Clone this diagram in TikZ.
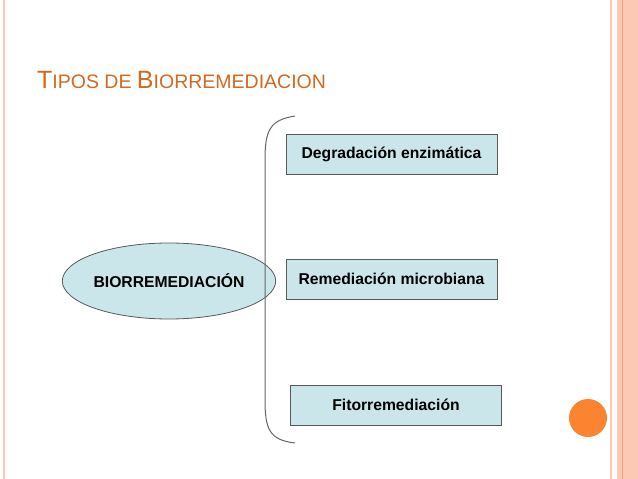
\documentclass[tikz,border=0pt]{standalone}
\usepackage{fontspec}
\setmainfont{Liberation Sans}
\usetikzlibrary{shapes.geometric}
\definecolor{boxfill}{HTML}{CBE6EA}
\definecolor{ttl}{HTML}{D2691E}
\definecolor{peach}{HTML}{FBC9B4}
\definecolor{peachline}{HTML}{F0A080}
\definecolor{dot}{HTML}{FB8430}
\tikzset{leaf/.style={draw=black!65,line width=0.8pt,fill=boxfill,minimum width=211pt,minimum height=40pt,font=\bfseries\fontsize{15.7}{18}\selectfont}}
\begin{document}
\begin{tikzpicture}[x=1pt,y=-1pt]
\useasboundingbox (0,0) rectangle (638,479);
\fill[white] (0,0) rectangle (638,479);
\fill[peach] (617,0) rectangle (638,479);
\draw[peachline,line width=0.8pt] (622,0) -- (622,479);
\draw[peach,line width=1.5pt] (611,0) -- (611,479);
\draw[peach,line width=1.2pt] (4,0) -- (4,479);
\node[anchor=base west,text=ttl,inner sep=0] (title) at (37,88) {\fontsize{25}{28}\selectfont T\fontsize{19.5}{22}\selectfont IPOS DE \fontsize{25}{28}\selectfont B\fontsize{19.5}{22}\selectfont IORREMEDIACION};
\node[ellipse,draw=black!65,line width=0.8pt,fill=boxfill,minimum width=180pt,minimum height=76pt,inner sep=0pt,font=\bfseries\fontsize{15.7}{18}\selectfont] (root) at (169,281) {BIORREMEDIACIÓN};
\node[leaf] (a) at (391.5,154) {Degradación enzimática};
\node[leaf] (b) at (391.5,279) {Remediación microbiana};
\node[leaf] (c) at (396,405) {Fitorremediación};
\coordinate (bt) at (295,116);
\coordinate (bb) at (295,443);
\draw[black!60,line width=1pt] (bt) .. controls (270,120) and (265,130) .. (265,160) -- (265,400) .. controls (265,430) and (270,440) .. (bb);
\fill[dot] (588,418) circle (19);
\end{tikzpicture}
\end{document}
